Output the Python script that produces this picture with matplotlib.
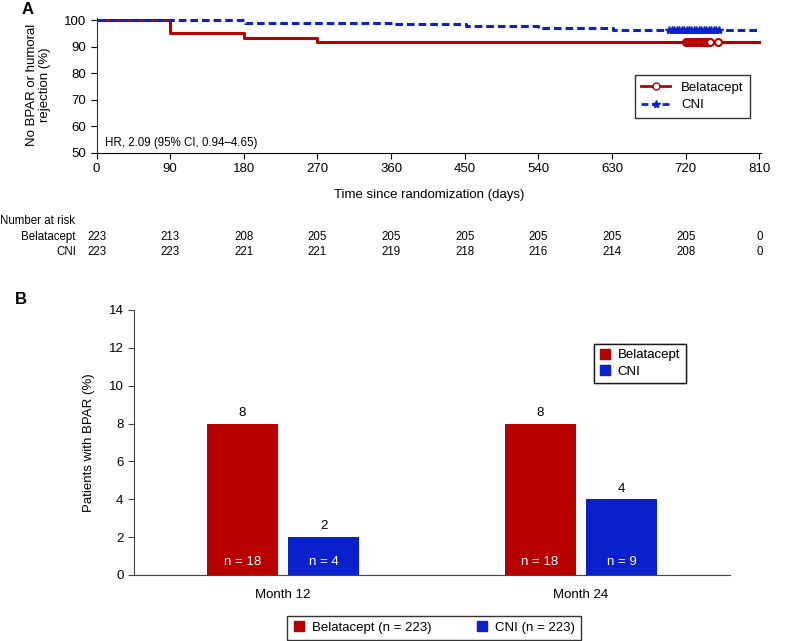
import matplotlib
matplotlib.use("Agg")
import matplotlib.pyplot as plt
from matplotlib.lines import Line2D
from matplotlib.transforms import blended_transform_factory

plt.rcParams['font.family'] = ['Liberation Sans', 'DejaVu Sans']
plt.rcParams['font.size'] = 9.5

RED = '#B80000'
BLUE = '#0A22CC'

# Panel A: Kaplan-Meier data
bela_t = [0, 90, 180, 270, 812]
bela_s = [100, 95.1, 93.4, 91.8, 91.8]
cni_t = [0, 181, 362, 452, 540, 631, 812]
cni_s = [100, 99.1, 98.6, 97.8, 97.0, 96.2, 96.2]
bela_cens = [720, 722, 724, 726, 728, 730, 732, 734, 736, 738, 740, 742, 744, 746, 748, 750, 759]
cni_cens = [700, 703, 706, 709, 712, 715, 718, 721, 724, 727, 730, 733, 736, 739, 742, 745, 748, 751, 754, 757, 761]

risk_days = [0, 90, 180, 270, 360, 450, 540, 630, 720, 810]
risk_bela = [223, 213, 208, 205, 205, 205, 205, 205, 205, 0]
risk_cni = [223, 223, 221, 221, 219, 218, 216, 214, 208, 0]

# Panel B: bar data
months = ['Month 12', 'Month 24']
bar_bela = [8, 8]
bar_cni = [2, 4]
n_bela = [18, 18]
n_cni = [4, 9]

fig = plt.figure(figsize=(7.88, 6.41), dpi=100)

# ---------- Panel A ----------
axA = fig.add_axes([0.1225, 0.7618, 0.8433, 0.2106])
axA.step(bela_t, bela_s, where='post', color=RED, lw=2.2)
axA.step(cni_t, cni_s, where='post', color=BLUE, lw=2.2, ls=(0, (2.5, 1.3)))
axA.plot(bela_cens, [91.8] * len(bela_cens), ls='none', marker='o', ms=5,
         mfc='white', mec=RED, mew=1.5)
axA.plot(cni_cens, [96.2] * len(cni_cens), ls='none', marker='*', ms=6,
         color=BLUE)
axA.set_xlim(0, 812)
axA.set_ylim(50, 101)
axA.set_xticks(risk_days)
axA.set_yticks([50, 60, 70, 80, 90, 100])
axA.spines['top'].set_visible(False)
axA.spines['right'].set_visible(False)
axA.spines['left'].set_color('#333333')
axA.tick_params(direction='out', length=4, labelsize=9.5)
axA.set_xlabel('Time since randomization (days)', fontsize=9.5, labelpad=10)
axA.set_ylabel('No BPAR or humoral\nrejection (%)', fontsize=9.5, labelpad=9)
axA.text(10, 53.5, 'HR, 2.09 (95% CI, 0.94\u20134.65)', fontsize=8.3, va='center')

legA = [Line2D([0], [0], color=RED, lw=2, marker='o', mfc='white', mec=RED, ms=5),
        Line2D([0], [0], color=BLUE, lw=2, ls=(0, (2.5, 1.3)), marker='*', ms=6)]
axA.legend(legA, ['Belatacept', 'CNI'], loc='upper left', bbox_to_anchor=(0.81, 0.575),
           borderaxespad=0, frameon=True, fancybox=False, edgecolor='black',
           fontsize=9.5, handlelength=2.2, borderpad=0.5, labelspacing=0.4)

# number at risk table
fig.text(0 / 788, 1 - 221 / 641, 'Number at risk', fontsize=8.3, va='center')
fig.text(76 / 788, 1 - 237 / 641, 'Belatacept', fontsize=8.3, va='center', ha='right')
fig.text(76 / 788, 1 - 252 / 641, 'CNI', fontsize=8.3, va='center', ha='right')
trans = blended_transform_factory(axA.transData, fig.transFigure)
for d, b, c in zip(risk_days, risk_bela, risk_cni):
    fig.text(d, 1 - 237 / 641, str(b), transform=trans, ha='center', va='center', fontsize=8.3)
    fig.text(d, 1 - 252 / 641, str(c), transform=trans, ha='center', va='center', fontsize=8.3)

fig.text(22 / 788, 1 - 10 / 641, 'A', fontsize=12, fontweight='bold', va='center')

# ---------- Panel B ----------
axB = fig.add_axes([0.170, 0.1030, 0.7563, 0.4134])
x = [0, 1]
w = 0.238
off = 0.137
axB.bar([i - off for i in x], bar_bela, width=w, color=RED)
axB.bar([i + off for i in x], bar_cni, width=w, color=BLUE)
for i in x:
    axB.text(i - off, bar_bela[i] + 0.25, str(bar_bela[i]), ha='center', va='bottom', fontsize=9.5)
    axB.text(i + off, bar_cni[i] + 0.25, str(bar_cni[i]), ha='center', va='bottom', fontsize=9.5)
    axB.text(i - off, 0.7, 'n = %d' % n_bela[i], ha='center', va='center', color='white', fontsize=9.5)
    axB.text(i + off, 0.7, 'n = %d' % n_cni[i], ha='center', va='center', color='white', fontsize=9.5)
axB.set_xlim(-0.5, 1.5)
axB.set_ylim(0, 14)
axB.set_yticks(range(0, 15, 2))
axB.set_xticks(x)
axB.set_xticklabels(months, fontsize=9.5)
axB.tick_params(axis='x', length=0, pad=10)
axB.tick_params(axis='y', direction='out', length=4, labelsize=9.5, color='#444444')
axB.spines['top'].set_visible(False)
axB.spines['right'].set_visible(False)
axB.spines['left'].set_color('#444444')
axB.spines['bottom'].set_color('#444444')
axB.set_ylabel('Patients with BPAR (%)', fontsize=9.5, labelpad=10)

sq = [Line2D([0], [0], ls='none', marker='s', ms=7, color=RED),
      Line2D([0], [0], ls='none', marker='s', ms=7, color=BLUE)]
leg1 = axB.legend(sq, ['Belatacept', 'CNI'], loc='upper left', bbox_to_anchor=(0.772, 0.872),
                  borderaxespad=0, frameon=True, fancybox=False, edgecolor='black',
                  fontsize=9.5, handlelength=0.8, handletextpad=0.6, borderpad=0.4,
                  labelspacing=0.3)
axB.add_artist(leg1)
fig.legend(sq, ['Belatacept (n = 223)', 'CNI (n = 223)'], loc='lower center',
           bbox_to_anchor=(434 / 788, 0.0), borderaxespad=0.1, ncol=2, frameon=True,
           fancybox=False, edgecolor='black', fontsize=9.5, handlelength=0.8,
           handletextpad=0.6, columnspacing=3.4, borderpad=0.45)

fig.text(15 / 788, 1 - 300 / 641, 'B', fontsize=12, fontweight='bold', va='center')

fig.savefig('out.png', dpi=100)
